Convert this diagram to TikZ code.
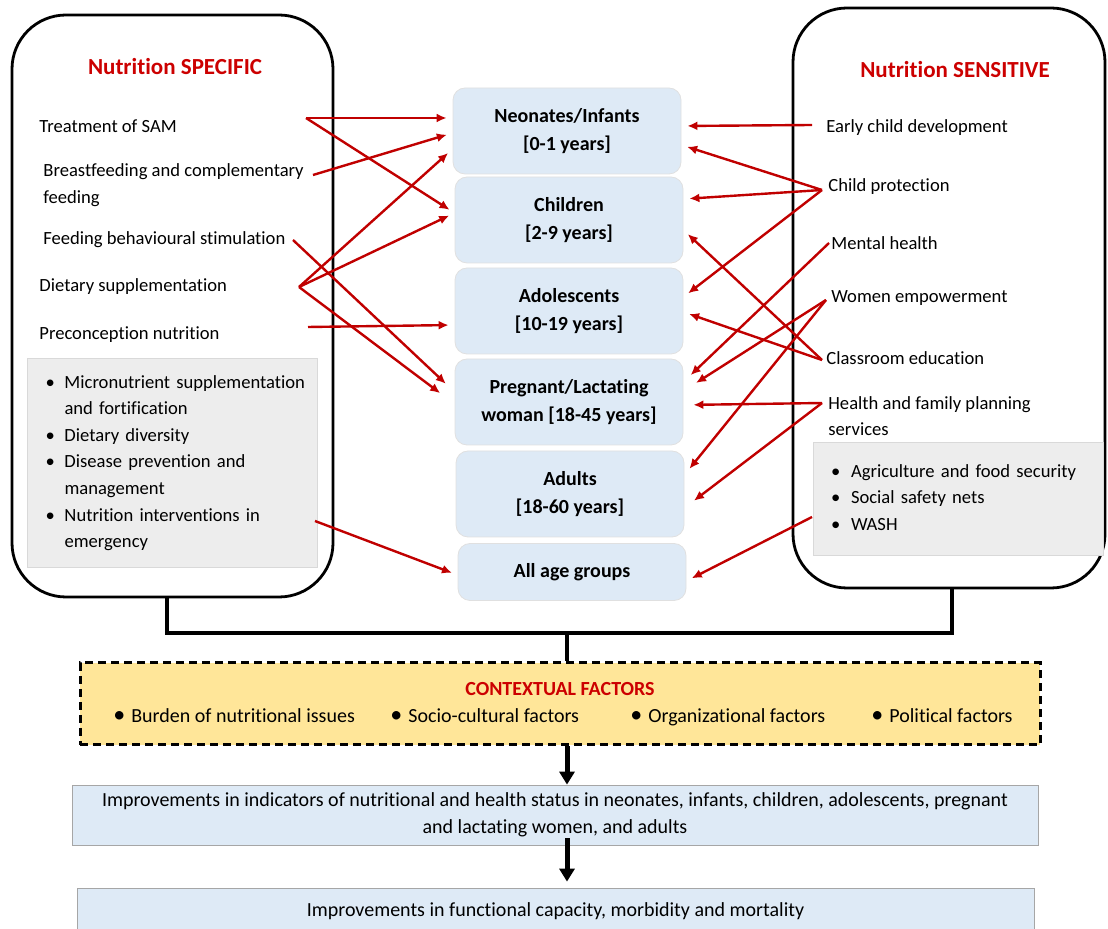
\documentclass[tikz,border=0pt]{standalone}
\usepackage{fontspec}
\setmainfont{Carlito}[Ligatures=NoCommon]
\usetikzlibrary{arrows.meta}
\definecolor{agefill}{RGB}{222,234,246}
\definecolor{boxgrey}{RGB}{237,237,237}
\definecolor{ctxfill}{RGB}{255,230,153}
\definecolor{arrred}{RGB}{192,0,0}
\definecolor{headred}{RGB}{204,0,0}

\begin{document}
\begin{tikzpicture}[x=0.5pt,y=-0.5pt,
    side/.style={draw,line width=1.4pt,rounded corners=27pt},
    head/.style={text=headred,font=\fontsize{11.5}{14}\selectfont\bfseries},
    item/.style={anchor=west,align=left,inner sep=0pt,font=\fontsize{9.3}{13.3}\selectfont},
    age/.style={fill=agefill,draw=black!12,rounded corners=6pt,minimum width=114pt,minimum height=43pt,align=center,font=\fontsize{10}{14}\selectfont\bfseries},
    extra/.style={fill=boxgrey,draw=black!15,text width=127pt,inner xsep=9pt,font=\fontsize{9.3}{13.3}\selectfont},
    factor/.style={anchor=base west,inner sep=0pt,font=\fontsize{10}{12}\selectfont},
    result/.style={fill=agefill,draw=black!35,align=center,font=\fontsize{10}{13.5}\selectfont},
    rarr/.style={-{Latex[length=5pt,width=4.5pt]},draw=arrred,line width=1.2pt,shorten >=3pt},
    link/.style={line width=2pt},
    bigarr/.style={-{Triangle[length=6.5pt,width=7.5pt]},line width=2.5pt}]
    \useasboundingbox (0,0) rectangle (1108,929);

    \node[side,minimum width=160.5pt,minimum height=291pt] (spec) at (172.5,306) {};
    \node[head] (spectitle) at (175,67) {Nutrition SPECIFIC};
    \node[item] (sam) at (39,126) {Treatment of SAM};
    \node[item] (bf) at (43,185) {Breastfeeding and complementary\\feeding};
    \node[item] (fbs) at (43,240) {Feeding behavioural stimulation};
    \node[item] (dsup) at (39,287) {Dietary supplementation};
    \node[item] (prec) at (39,335) {Preconception nutrition};
    \node[extra,minimum height=104.5pt] (specx) at (172.5,462.5) {%
        \begin{tabular}{@{}p{9.5pt}@{}l@{}}
        \textbullet & Micronutrient supplementation\\
                    & and fortification\\
        \textbullet & Dietary diversity\\
        \textbullet & Disease prevention and\\
                    & management\\
        \textbullet & Nutrition interventions in\\
                    & emergency
        \end{tabular}};

    \node[side,minimum width=156pt,minimum height=290pt] (sens) at (949,298) {};
    \node[head] (senstitle) at (955,70) {Nutrition SENSITIVE};
    \node[item] (ecd) at (826,128) {Early child development};
    \node[item] (cp) at (828,187) {Child protection};
    \node[item] (mh) at (831,243) {Mental health};
    \node[item] (we) at (831,298) {Women empowerment};
    \node[item] (ce) at (826,358) {Classroom education};
    \node[item] (hfp) at (828,416) {Health and family planning\\services};
    \node[extra,minimum height=56.5pt] (sensx) at (958,498.5) {%
        \begin{tabular}{@{}p{10pt}@{}l@{}}
        \textbullet & Agriculture and food security\\
        \textbullet & Social safety nets\\
        \textbullet & WASH
        \end{tabular}};

    \node[age] (neo) at (567,131) {Neonates/Infants\\{[0-1 years]}};
    \node[age] (chi) at (569,220) {Children\\{[2-9 years]}};
    \node[age] (ado) at (569,311) {Adolescents\\{[10-19 years]}};
    \node[age] (pre) at (569,402) {Pregnant/Lactating\\woman [18-45 years]};
    \node[age] (adu) at (570,494) {Adults\\{[18-60 years]}};
    \node[age,minimum height=28.5pt] (all) at (572,572) {All age groups};

    \coordinate (jn) at (567,633);
    \node[draw,fill=ctxfill,line width=1.5pt,dash pattern=on 4pt off 2.5pt,minimum width=480pt,minimum height=41pt] (ctx) at (560,704) {};
    \node[text=headred,font=\fontsize{10}{12}\selectfont\bfseries] (ctxtitle) at (560,689) {CONTEXTUAL FACTORS};
    \node[factor] (burden) at (113,723) {{\large\textbullet}\hspace{3pt}Burden of nutritional issues};
    \node[factor] (socio) at (390,723) {{\large\textbullet}\hspace{3pt}Socio-cultural factors};
    \node[factor] (organ) at (630,723) {{\large\textbullet}\hspace{3pt}Organizational factors};
    \node[factor] (polit) at (871,723) {{\large\textbullet}\hspace{3pt}Political factors};
    \draw[link] ([xshift=-3pt]spec.south) |- (jn) -| ([xshift=1.5pt]sens.south);
    \draw[link] (jn) -- (jn |- ctx.north);

    \node[result,minimum width=483pt,minimum height=30pt] (imp1) at (555,815) {Improvements in indicators of nutritional and health status in neonates, infants, children, adolescents, pregnant\\and lactating women, and adults};
    \node[result,minimum width=478.5pt,minimum height=23pt] (imp2) at (555.5,911) {Improvements in functional capacity, morbidity and mortality};
    \coordinate (dn) at (567,838);
    \draw[bigarr] (jn |- ctx.south) -- (jn |- imp1.north);
    \draw[bigarr,shorten >=3pt] (dn) -- (dn |- imp2.north);

    \coordinate (samo) at (306,118);
    \coordinate (bfo) at (313,175);
    \coordinate (fbso) at (293,240);
    \coordinate (dsupo) at (299,287);
    \coordinate (preco) at (308,327);
    \coordinate (emgo) at (315,521);
    \draw[rarr] (samo) -- ([yshift=6.5pt]neo.west);
    \draw[rarr] (samo) -- ([yshift=3.5pt]chi.west);
    \draw[rarr] (bfo) -- ([yshift=-1pt]neo.west);
    \draw[rarr] (dsupo) -- ([yshift=-9pt]neo.west);
    \draw[rarr] (dsupo) -- ([yshift=3.5pt]chi.west);
    \draw[rarr,shorten >=9pt] (dsupo) -- ([yshift=-1pt]pre.west);
    \draw[rarr,shorten >=6pt] (fbso) -- ([yshift=5pt]pre.west);
    \draw[rarr] (preco) -- ([yshift=-7pt]ado.west);
    \draw[rarr] (emgo) -- ([yshift=-1.5pt]all.west);

    \coordinate (ecdo) at (812,125);
    \coordinate (cpo) at (822,190);
    \coordinate (mho) at (829,243);
    \coordinate (weo) at (826,300);
    \coordinate (ceo) at (822,360);
    \coordinate (hfpo) at (822,403);
    \coordinate (washo) at (812,517);
    \draw[rarr] (ecdo) -- ([yshift=2.5pt]neo.east);
    \draw[rarr] (cpo) -- ([yshift=-7pt]neo.east);
    \draw[rarr] (cpo) -- ([yshift=10.5pt]chi.east);
    \draw[rarr] (cpo) -- ([yshift=7pt]ado.east);
    \draw[rarr,shorten >=5pt] (mho) -- ([yshift=10pt]pre.east);
    \draw[rarr,shorten >=7.5pt] (weo) -- ([yshift=5.5pt]pre.east);
    \draw[rarr,shorten >=4pt] (weo) -- ([yshift=9.5pt]adu.east);
    \draw[rarr] (ceo) -- ([yshift=-5pt]chi.east);
    \draw[rarr] (ceo) -- ([yshift=-0.5pt]ado.east);
    \draw[rarr,shorten >=5pt] (hfpo) -- ([yshift=-1.5pt]pre.east);
    \draw[rarr,shorten >=6pt] (hfpo) -- ([yshift=-7pt]adu.east);
    \draw[rarr] (washo) -- ([yshift=-4.5pt]all.east);
\end{tikzpicture}
\end{document}
